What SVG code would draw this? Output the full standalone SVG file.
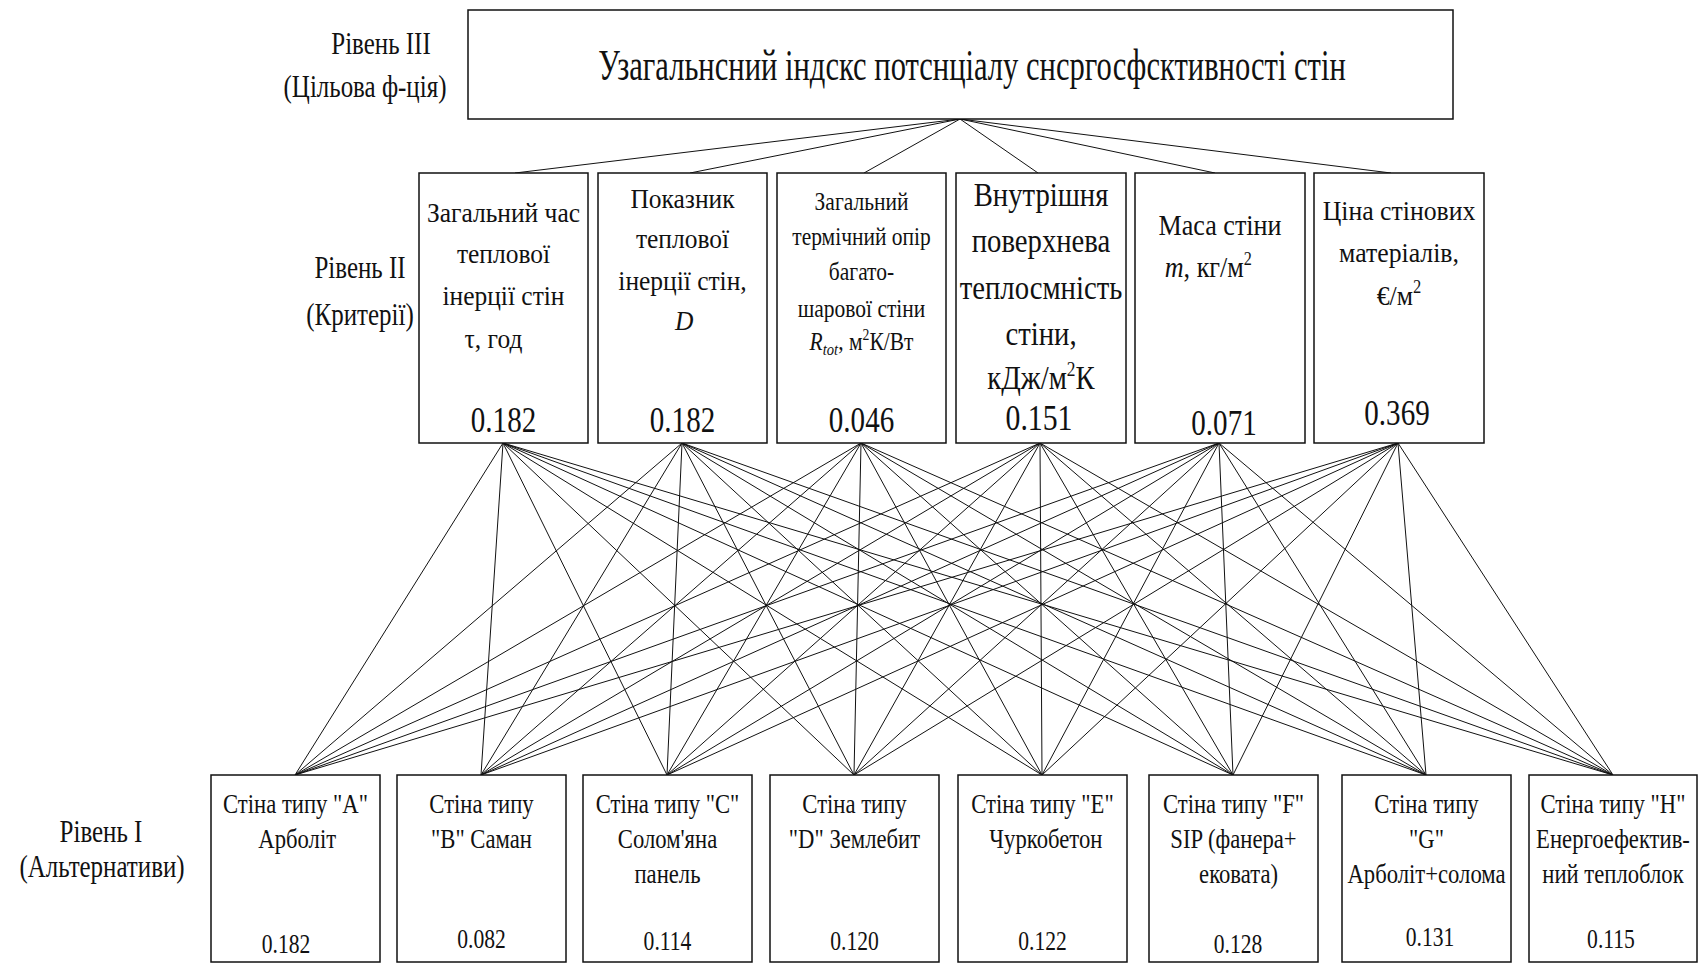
<svg xmlns="http://www.w3.org/2000/svg" width="1699" height="965" viewBox="0 0 1699 965" font-family="'Liberation Serif', 'DejaVu Serif', 'Noto Serif', serif">
<style>
  .box{fill:#fff;stroke:#111;stroke-width:1.5}
  #connectors line{stroke:#111;stroke-width:1}
  text{font-family:"Liberation Serif","DejaVu Serif","Noto Serif",serif;fill:#111;text-anchor:middle}
  .lbl{font-size:32px}
  .title{font-size:44px}
  .t28{font-size:28px}
  .t25{font-size:25px}
  .t33{font-size:33px}
  .t29{font-size:29px}
  .num{font-size:35px}
  .alt{font-size:27px}
  .anum{font-size:27px}
  .it{font-style:italic}
</style>
<rect width="1699" height="965" fill="#fff"/>

<g id="connectors">
  <line x1="960" y1="119" x2="515" y2="173"/>
  <line x1="960" y1="119" x2="690" y2="173"/>
  <line x1="960" y1="119" x2="864" y2="173"/>
  <line x1="960" y1="119" x2="1038" y2="173"/>
  <line x1="960" y1="119" x2="1215" y2="173"/>
  <line x1="960" y1="119" x2="1391" y2="173"/>

  <line x1="503" y1="443" x2="295" y2="775"/>
  <line x1="503" y1="443" x2="481" y2="775"/>
  <line x1="503" y1="443" x2="667" y2="775"/>
  <line x1="503" y1="443" x2="854" y2="775"/>
  <line x1="503" y1="443" x2="1042" y2="775"/>
  <line x1="503" y1="443" x2="1233" y2="775"/>
  <line x1="503" y1="443" x2="1426" y2="775"/>
  <line x1="503" y1="443" x2="1613" y2="775"/>

  <line x1="682" y1="443" x2="295" y2="775"/>
  <line x1="682" y1="443" x2="481" y2="775"/>
  <line x1="682" y1="443" x2="667" y2="775"/>
  <line x1="682" y1="443" x2="854" y2="775"/>
  <line x1="682" y1="443" x2="1042" y2="775"/>
  <line x1="682" y1="443" x2="1233" y2="775"/>
  <line x1="682" y1="443" x2="1426" y2="775"/>
  <line x1="682" y1="443" x2="1613" y2="775"/>

  <line x1="861" y1="443" x2="295" y2="775"/>
  <line x1="861" y1="443" x2="481" y2="775"/>
  <line x1="861" y1="443" x2="667" y2="775"/>
  <line x1="861" y1="443" x2="854" y2="775"/>
  <line x1="861" y1="443" x2="1042" y2="775"/>
  <line x1="861" y1="443" x2="1233" y2="775"/>
  <line x1="861" y1="443" x2="1426" y2="775"/>
  <line x1="861" y1="443" x2="1613" y2="775"/>

  <line x1="1040" y1="443" x2="295" y2="775"/>
  <line x1="1040" y1="443" x2="481" y2="775"/>
  <line x1="1040" y1="443" x2="667" y2="775"/>
  <line x1="1040" y1="443" x2="854" y2="775"/>
  <line x1="1040" y1="443" x2="1042" y2="775"/>
  <line x1="1040" y1="443" x2="1233" y2="775"/>
  <line x1="1040" y1="443" x2="1426" y2="775"/>
  <line x1="1040" y1="443" x2="1613" y2="775"/>

  <line x1="1219" y1="443" x2="295" y2="775"/>
  <line x1="1219" y1="443" x2="481" y2="775"/>
  <line x1="1219" y1="443" x2="667" y2="775"/>
  <line x1="1219" y1="443" x2="854" y2="775"/>
  <line x1="1219" y1="443" x2="1042" y2="775"/>
  <line x1="1219" y1="443" x2="1233" y2="775"/>
  <line x1="1219" y1="443" x2="1426" y2="775"/>
  <line x1="1219" y1="443" x2="1613" y2="775"/>

  <line x1="1398" y1="443" x2="295" y2="775"/>
  <line x1="1398" y1="443" x2="481" y2="775"/>
  <line x1="1398" y1="443" x2="667" y2="775"/>
  <line x1="1398" y1="443" x2="854" y2="775"/>
  <line x1="1398" y1="443" x2="1042" y2="775"/>
  <line x1="1398" y1="443" x2="1233" y2="775"/>
  <line x1="1398" y1="443" x2="1426" y2="775"/>
  <line x1="1398" y1="443" x2="1613" y2="775"/>
</g>

<g id="level-labels">
  <g transform="translate(381,0) scale(0.78,1)"><text class="lbl" x="0" y="54">Рівень III</text></g>
  <g transform="translate(365,0) scale(0.78,1)"><text class="lbl" x="0" y="97">(Цільова ф-ція)</text></g>
  <g transform="translate(360,0) scale(0.78,1)"><text class="lbl" x="0" y="278">Рівень II</text></g>
  <g transform="translate(360,0) scale(0.78,1)"><text class="lbl" x="0" y="325">(Критерії)</text></g>
  <g transform="translate(101,0) scale(0.78,1)"><text class="lbl" x="0" y="842">Рівень I</text></g>
  <g transform="translate(102,0) scale(0.78,1)"><text class="lbl" x="0" y="877">(Альтернативи)</text></g>
</g>

<g id="goal">
  <rect class="box" x="468" y="10" width="985" height="109"/>
  <g transform="translate(972,0) scale(0.695,1)"><text class="title" x="0" y="80">Узагальнсний індскс потснціалу снсргосфсктивності стін</text></g>
</g>

<g id="crit1">
  <rect class="box" x="419" y="173" width="169" height="270"/>
  <g transform="translate(503.5,0) scale(0.91,1)" class="t28">
    <text x="0" y="222">Загальний час</text>
    <text x="0" y="263">теплової</text>
    <text x="0" y="305">інерції стін</text>
    <text x="-11" y="348">τ, год</text>
  </g>
  <g transform="translate(503.5,0) scale(0.83,1)"><text class="num" x="0" y="432">0.182</text></g>
</g>

<g id="crit2">
  <rect class="box" x="598" y="173" width="169" height="270"/>
  <g transform="translate(682.5,0) scale(0.91,1)" class="t28">
    <text x="0" y="208">Показник</text>
    <text x="0" y="248">теплової</text>
    <text x="0" y="290">інерції стін,</text>
    <text class="it" x="2" y="330">D</text>
  </g>
  <g transform="translate(682.5,0) scale(0.83,1)"><text class="num" x="0" y="432">0.182</text></g>
</g>

<g id="crit3">
  <rect class="box" x="777" y="173" width="169" height="270"/>
  <g transform="translate(861.5,0) scale(0.86,1)" class="t25">
    <text x="0" y="210">Загальний</text>
    <text x="0" y="245">термічний опір</text>
    <text x="0" y="280">багато-</text>
    <text x="0" y="317">шарової стіни</text>
    <text x="0" y="350"><tspan class="it">R</tspan><tspan class="it" font-size="17" dy="5">tot</tspan><tspan dy="-5">, м</tspan><tspan font-size="16" dy="-10">2</tspan><tspan dy="10">К/Вт</tspan></text>
  </g>
  <g transform="translate(861.5,0) scale(0.83,1)"><text class="num" x="0" y="432">0.046</text></g>
</g>

<g id="crit4">
  <rect class="box" x="956" y="173" width="170" height="270"/>
  <g transform="translate(1041,0) scale(0.87,1)" class="t33">
    <text x="0" y="206">Внутрішня</text>
    <text x="0" y="252">поверхнева</text>
    <text x="0" y="299">теплосмність</text>
    <text x="0" y="345">стіни,</text>
    <text x="0" y="389">кДж/м<tspan font-size="20" dy="-13">2</tspan><tspan dy="13">К</tspan></text>
  </g>
  <g transform="translate(1039,0) scale(0.85,1)"><text class="num" x="0" y="430" font-size="34">0.151</text></g>
</g>

<g id="crit5">
  <rect class="box" x="1135" y="173" width="170" height="270"/>
  <g transform="translate(1220,0) scale(0.9,1)" class="t29">
    <text x="0" y="235">Маса стіни</text>
    <text x="-13" y="277"><tspan class="it">m</tspan>, кг/м<tspan font-size="18" dy="-12">2</tspan></text>
  </g>
  <g transform="translate(1224,0) scale(0.83,1)"><text class="num" x="0" y="435">0.071</text></g>
</g>

<g id="crit6">
  <rect class="box" x="1314" y="173" width="170" height="270"/>
  <g transform="translate(1399,0) scale(0.92,1)" class="t28">
    <text x="0" y="220">Ціна стінових</text>
    <text x="0" y="262">матеріалів,</text>
    <text x="0" y="305">€/м<tspan font-size="18" dy="-12">2</tspan></text>
  </g>
  <g transform="translate(1397,0) scale(0.83,1)"><text class="num" x="0" y="425">0.369</text></g>
</g>

<g id="altA">
  <rect class="box" x="211" y="775" width="169" height="187"/>
  <g transform="translate(295.5,0) scale(0.84,1)" class="alt">
    <text x="0" y="813">Стіна типу "A"</text>
    <text x="2" y="848">Арболіт</text>
  </g>
  <g transform="translate(286,0) scale(0.8,1)"><text class="anum" x="0" y="953">0.182</text></g>
</g>

<g id="altB">
  <rect class="box" x="397" y="775" width="169" height="187"/>
  <g transform="translate(481.5,0) scale(0.84,1)" class="alt">
    <text x="0" y="813">Стіна типу</text>
    <text x="0" y="848">"B" Саман</text>
  </g>
  <g transform="translate(481.5,0) scale(0.8,1)"><text class="anum" x="0" y="948">0.082</text></g>
</g>

<g id="altC">
  <rect class="box" x="583" y="775" width="169" height="187"/>
  <g transform="translate(667.5,0) scale(0.84,1)" class="alt">
    <text x="0" y="813">Стіна типу "C"</text>
    <text x="0" y="848">Солом'яна</text>
    <text x="0" y="883">панель</text>
  </g>
  <g transform="translate(667.5,0) scale(0.8,1)"><text class="anum" x="0" y="950">0.114</text></g>
</g>

<g id="altD">
  <rect class="box" x="770" y="775" width="169" height="187"/>
  <g transform="translate(854.5,0) scale(0.84,1)" class="alt">
    <text x="0" y="813">Стіна типу</text>
    <text x="0" y="848">"D" Землебит</text>
  </g>
  <g transform="translate(854.5,0) scale(0.8,1)"><text class="anum" x="0" y="950">0.120</text></g>
</g>

<g id="altE">
  <rect class="box" x="958" y="775" width="169" height="187"/>
  <g transform="translate(1042.5,0) scale(0.84,1)" class="alt">
    <text x="0" y="813">Стіна типу "E"</text>
    <text x="4" y="848">Чуркобетон</text>
  </g>
  <g transform="translate(1042.5,0) scale(0.8,1)"><text class="anum" x="0" y="950">0.122</text></g>
</g>

<g id="altF">
  <rect class="box" x="1149" y="775" width="169" height="187"/>
  <g transform="translate(1233.5,0) scale(0.84,1)" class="alt">
    <text x="0" y="813">Стіна типу "F"</text>
    <text x="0" y="848">SIP (фанера+</text>
    <text x="6" y="883">ековата)</text>
  </g>
  <g transform="translate(1238,0) scale(0.8,1)"><text class="anum" x="0" y="953">0.128</text></g>
</g>

<g id="altG">
  <rect class="box" x="1342" y="775" width="169" height="187"/>
  <g transform="translate(1426.5,0) scale(0.84,1)" class="alt">
    <text x="0" y="813">Стіна типу</text>
    <text x="0" y="848">"G"</text>
    <text x="0" y="883">Арболіт+солома</text>
  </g>
  <g transform="translate(1430,0) scale(0.8,1)"><text class="anum" x="0" y="946">0.131</text></g>
</g>

<g id="altH">
  <rect class="box" x="1529" y="775" width="168" height="187"/>
  <g transform="translate(1613,0) scale(0.84,1)" class="alt">
    <text x="0" y="813">Стіна типу "H"</text>
    <text x="0" y="848">Енергоефектив-</text>
    <text x="0" y="883">ний теплоблок</text>
  </g>
  <g transform="translate(1611,0) scale(0.8,1)"><text class="anum" x="0" y="948">0.115</text></g>
</g>
</svg>
